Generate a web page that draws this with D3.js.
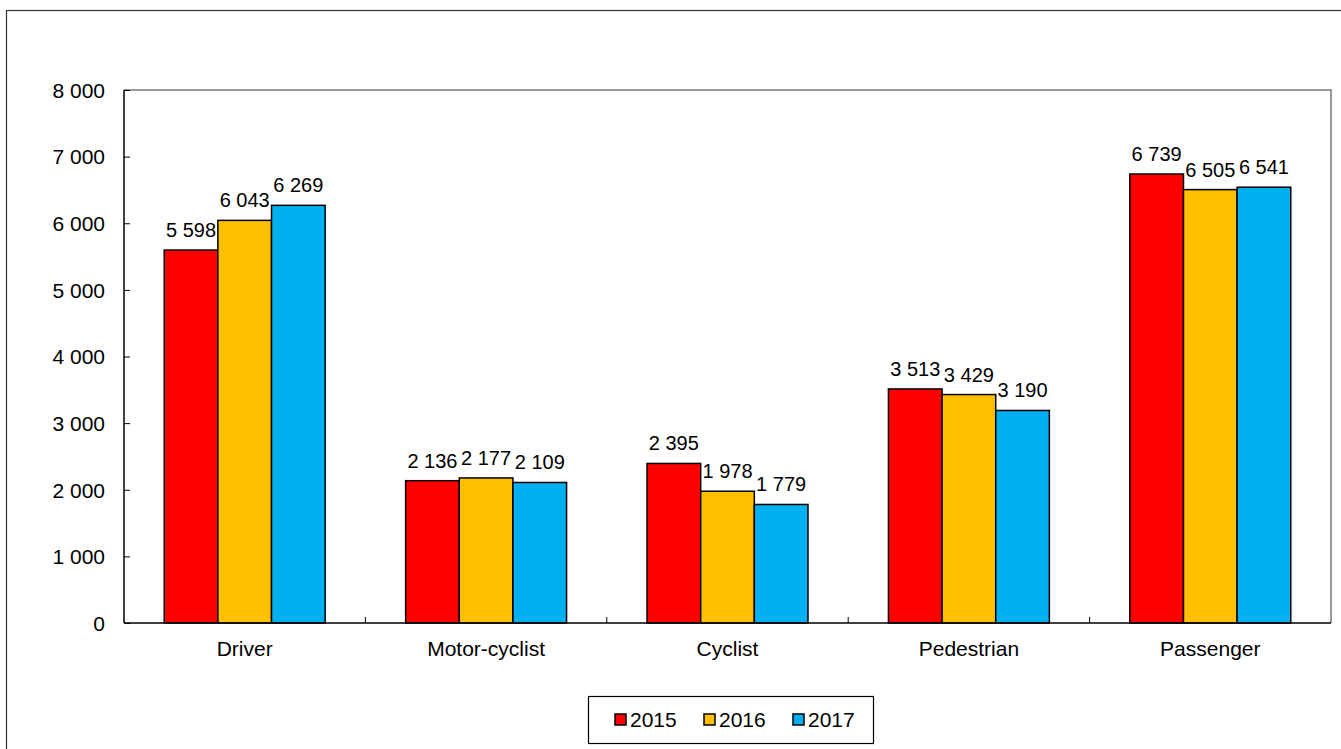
<!DOCTYPE html>
<html><head><meta charset="utf-8">
<script src="https://cdn.jsdelivr.net/npm/d3@7"></script>
<style>body{margin:0;background:#fff;} text{font-family:"Liberation Sans",Arial,sans-serif;}</style>
</head><body>
<svg id="c" width="1341" height="749"></svg>
<script>
const categories = ["Driver","Motor-cyclist","Cyclist","Pedestrian","Passenger"];
const years = ["2015","2016","2017"];
const v2015 = [5598, 2136, 2395, 3513, 6739];
const v2016 = [6043, 2177, 1978, 3429, 6505];
const v2017 = [6269, 2109, 1779, 3190, 6541];
const yTicks = [0,1000,2000,3000,4000,5000,6000,7000,8000];
const colors = ["#ff0000","#ffc000","#00b0f0"];
const series = [v2015, v2016, v2017];

const svg = d3.select("#c");
const L=124, R=1331, T=90, B=623;
const fmt = d => d3.format(",")(d).replace(/,/g," ");
const FF = "Liberation Sans, Arial, sans-serif";

svg.append("rect").attr("x",6.5).attr("y",10.5).attr("width",1345).attr("height",750)
  .attr("fill","none").attr("stroke","#333").attr("stroke-width",1.2);

const x0 = d3.scaleBand().domain(categories).range([L,R]);
const x1 = d3.scaleBand().domain(years).range([x0.bandwidth()/6, x0.bandwidth()*5/6]);
const y = d3.scaleLinear().domain([0,8000]).range([B,T]);

svg.append("path").attr("d",`M${L},${T}H${R}V${B}`).attr("fill","none").attr("stroke","#777").attr("stroke-width",1.5);

const g = svg.append("g");
categories.forEach((c,i)=>{
  years.forEach((yr,j)=>{
    const val = series[j][i];
    g.append("rect").attr("x",x0(c)+x1(yr)).attr("y",y(val))
      .attr("width",x1.bandwidth()).attr("height",y(0)-y(val))
      .attr("fill",colors[j]).attr("stroke","#000").attr("stroke-width",1.5);
    g.append("text").attr("x",x0(c)+x1(yr)+x1.bandwidth()/2).attr("y",y(val)-13)
      .attr("text-anchor","middle").attr("font-size",20).attr("fill","#000").text(fmt(val));
  });
});

const ya = svg.append("g").attr("transform",`translate(${L},0)`)
  .call(d3.axisRight(y).tickValues(yTicks).tickSize(6).tickFormat(fmt));
ya.select(".domain").attr("stroke","#000").attr("stroke-width",1.5).attr("d",`M0,${T}V${B}`);
ya.selectAll(".tick line").attr("stroke","#000");
ya.selectAll(".tick text").attr("x",-19).attr("dy","0.35em").attr("text-anchor","end").attr("font-size",21)
  .attr("font-family",FF).attr("fill","#000");

const xa = svg.append("g").attr("transform",`translate(0,${B})`)
  .call(d3.axisBottom(x0).tickSize(0));
xa.select(".domain").attr("stroke","#000").attr("stroke-width",1.5).attr("d",`M${L},0H${R}`);
xa.selectAll(".tick text").attr("dy",0).attr("y",33).attr("font-size",21)
  .attr("font-family",FF).attr("fill","#000");
categories.slice(1).forEach(c=>{
  svg.append("line").attr("x1",x0(c)).attr("x2",x0(c)).attr("y1",B).attr("y2",B-6)
    .attr("stroke","#000").attr("stroke-width",1);
});

svg.append("rect").attr("x",588.5).attr("y",696.5).attr("width",285).attr("height",47)
  .attr("fill","#fff").attr("stroke","#000").attr("stroke-width",1.2);
const lx = [615, 704, 793];
years.forEach((yr,j)=>{
  svg.append("rect").attr("x",lx[j]).attr("y",714).attr("width",11).attr("height",11)
    .attr("fill",colors[j]).attr("stroke","#000").attr("stroke-width",1.5);
  svg.append("text").attr("x",lx[j]+15).attr("y",727).attr("font-size",21).attr("fill","#000").text(yr);
});
</script>
</body></html>
